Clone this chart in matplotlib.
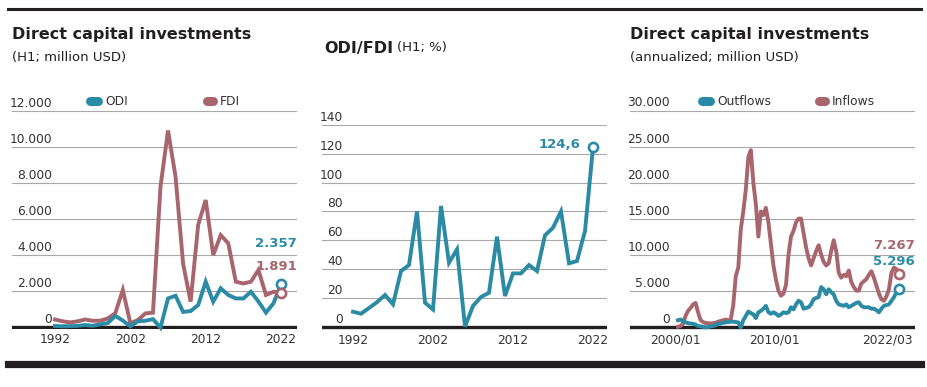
import numpy as np
import pandas as pd
import matplotlib
matplotlib.use('Agg')
import matplotlib.pyplot as plt
from matplotlib.lines import Line2D
from matplotlib.transforms import Affine2D, ScaledTranslation, blended_transform_factory, offset_copy

# ---- data ----
years = list(range(1992, 2023))
odi_h1 = [40, 25, 30, 50, 90, 50, 130, 200, 600, 340, 25, 300, 330, 420, -50,
          1570, 1720, 820, 870, 1200, 2500, 1390, 2130, 1760, 1570, 1570, 1940,
          1400, 780, 1300, 2357]
fdi_h1 = [400, 300, 240, 300, 400, 330, 330, 460, 750, 2040, 190, 370, 740, 780,
          7780, 10900, 8330, 3500, 1390, 5650, 7040, 3980, 5090, 4630, 2500, 2400,
          2500, 3150, 1760, 1940, 1891]
ratio_h1 = [10.4, 9, 13, 17, 22, 15.5, 38.6, 42.8, 80, 16.7, 12, 83.8, 44.4, 53.7,
            0, 14.4, 20.6, 23.6, 62.5, 21.3, 37, 37, 42.8, 38.6, 63.4, 68.7, 80,
            44, 45.6, 66.4, 124.6]

# annualized flows, roughly quarterly from 2000/01 to 2022/03
outflows = [900, 1000, 800, 600, 500, 450, 400, 300, 100, 50, 0, -100,
            -50, 50, 100, 200, 400, 450, 550, 600, 650, 700, 700, 650,
            600, -100, 900, 1500, 2100, 1900, 1700, 1200, 2000, 2200, 2500, 2900,
            2000, 1800, 2000, 1800, 1500, 1700, 2000, 1900, 2000, 2700, 2400, 3100,
            3600, 3400, 2500, 2600, 2700, 3100, 3800, 4000, 4100, 5500, 5200, 4500,
            5200, 4800, 4500, 3600, 3100, 3000, 2900, 3100, 2700, 2900, 3100, 3300,
            3400, 2900, 2700, 2700, 2700, 2500, 2500, 2300, 2000, 2500, 2900, 3000,
            3100, 3600, 4100, 4800, 5296]
inflows = [0, 100, 400, 1500, 2200, 2600, 3100, 3300, 2000, 900, 650, 500,
           500, 450, 500, 550, 700, 800, 900, 1000, 900, 1000, 3000, 7000,
           8200, 13500, 16000, 19000, 23500, 24500, 20000, 17000, 12500, 16000, 15500, 16500,
           14500, 11500, 8500, 6500, 5000, 4300, 4600, 5800, 10000, 12500, 13300, 14500,
           15000, 15000, 13000, 11000, 9500, 8500, 9500, 10500, 11300, 10000, 9000, 8500,
           8800, 10500, 12000, 10500, 7500, 6800, 7200, 7000, 7800, 6200, 5500, 5000,
           5000, 6000, 6300, 6600, 7200, 7700, 6800, 5700, 4600, 3800, 3600, 4200,
           5200, 7500, 8200, 8000, 7267]
dates = pd.date_range('2000-01-01', '2022-03-01', periods=len(inflows))

BLUE = '#2b8ba5'
RED = '#a9656d'
GRID = '#a8a8a8'
INK = '#231f20'
W, H = 927, 387
TICK = dict(fontsize=8.8, color='#333333')

plt.rcParams['font.family'] = ['Liberation Sans Narrow', 'DejaVu Sans']

fig = plt.figure(figsize=(W / 100, H / 100), dpi=100)
# transform in reference pixels (origin top-left)
pix = Affine2D().scale(1 / W, -1 / H).translate(0, 1) + fig.transFigure


def add_axes(x0, x1, y_top, y_bottom):
    ax = fig.add_axes([x0 / W, 1 - y_bottom / H, (x1 - x0) / W, (y_bottom - y_top) / H])
    for s in ax.spines.values():
        s.set_visible(False)
    ax.set_yticks([])
    ax.tick_params(axis='x', length=0, pad=2.6, labelsize=TICK['fontsize'], labelcolor=TICK['color'])
    return ax


def y_grid(ax, ticks, labels, label_x):
    tr = offset_copy(blended_transform_factory(ax.transAxes, ax.transData), fig=fig, y=4, units='dots')
    for v, lab in zip(ticks, labels):
        if v == 0:
            ax.axhline(0, color=INK, lw=2.4, zorder=2)
        else:
            ax.axhline(v, color=GRID, lw=0.8, zorder=1)
        ax.text(label_x, v, lab, transform=tr, ha='right', va='baseline', **TICK)


def end_marker(ax, x, y, color, text, dx, dy, ha='right'):
    ax.plot([x], [y], 'o', ms=6.6, mfc='white', mec=color, mew=1.9, zorder=5, clip_on=False)
    ax.annotate(text, (x, y), xytext=(dx, dy), textcoords='offset pixels', ha=ha, va='center',
                color=color, fontsize=9.5, fontweight='bold', annotation_clip=False)


def legend_pill(x0, x1, y, color, label):
    fig.add_artist(Line2D([x0 + 4.5, x1 - 4.5], [y, y], lw=6.5, color=color,
                          solid_capstyle='round', transform=pix))
    fig.text(x1 + 2, y, label, transform=pix, va='center', ha='left', **TICK)


def shift_label(lab, dx_px):
    lab.set_transform(lab.get_transform() + ScaledTranslation(dx_px / 100, 0, fig.dpi_scale_trans))


# ---- left: direct capital investments, H1 ----
ax1 = add_axes(12, 297, 110.7, 329.4)
ax1.set_ylim(-150, 12000)
ax1.set_xlim(1986.29, 2024.12)
y_grid(ax1, [0, 2000, 4000, 6000, 8000, 10000, 12000],
       ['0', '2.000', '4.000', '6.000', '8.000', '10.000', '12.000'], 40 / 285)
ax1.plot(years, fdi_h1, color=RED, lw=2.8, zorder=3, clip_on=False, solid_joinstyle='miter')
ax1.plot(years, odi_h1, color=BLUE, lw=2.8, zorder=4, clip_on=False, solid_joinstyle='miter')
ax1.set_xticks([1992, 2002, 2012, 2022])
end_marker(ax1, years[-1], odi_h1[-1], BLUE, '2.357', 16, 41)
end_marker(ax1, years[-1], fdi_h1[-1], RED, '1.891', 16, 26)
legend_pill(86, 103, 101.3, BLUE, 'ODI')
legend_pill(203, 218, 101.3, RED, 'FDI')

# ---- middle: ODI/FDI ratio ----
ax2 = add_axes(322, 607, 125, 330.0)
ax2.set_ylim(-2.3, 140)
ax2.set_xlim(1988.125, 2023.75)
y_grid(ax2, [0, 20, 40, 60, 80, 100, 120, 140],
       ['0', '20', '40', '60', '80', '100', '120', '140'], 21 / 285)
ax2.plot(years, ratio_h1, color=BLUE, lw=2.8, zorder=4, clip_on=False, solid_joinstyle='miter')
ax2.set_xticks([1992, 2002, 2012, 2022])
end_marker(ax2, years[-1], ratio_h1[-1], BLUE, '124,6', -13, 3)

# ---- right: annualized flows ----
ax3 = add_axes(630, 915, 110.5, 329.6)
ax3.set_ylim(-400, 30000)
ax3.plot(dates, inflows, color=RED, lw=2.8, zorder=3, clip_on=False)
ax3.plot(dates, outflows, color=BLUE, lw=2.8, zorder=4, clip_on=False)
ax3.set_xlim(dates[0] - pd.Timedelta(days=1758), dates[-1] + pd.Timedelta(days=586))
y_grid(ax3, [0, 5000, 10000, 15000, 20000, 25000, 30000],
       ['0', '5.000', '10.000', '15.000', '20.000', '25.000', '30.000'], 40 / 285)
ax3.set_xticks([pd.Timestamp('2000-01-01'), pd.Timestamp('2010-01-01'), pd.Timestamp('2022-03-01')])
ax3.set_xticklabels(['2000/01', '2010/01', '2022/03'])
xl = ax3.get_xticklabels()
shift_label(xl[0], -3)
shift_label(xl[1], -3)
shift_label(xl[2], -12)
end_marker(ax3, dates[-1], inflows[-1], RED, '7.267', 16, 29)
end_marker(ax3, dates[-1], outflows[-1], BLUE, '5.296', 16, 27)
legend_pill(698, 715, 101.3, BLUE, 'Outflows')
legend_pill(815, 830, 101.3, RED, 'Inflows')

# ---- titles ----
TITLE = dict(fontsize=11.5, fontweight='bold', color=INK, transform=pix, va='center', ha='left')
SUB = dict(fontsize=9.5, color=INK, transform=pix, va='center', ha='left')
fig.text(12, 34, 'Direct capital investments', **TITLE)
fig.text(12, 57, '(H1; million USD)', **SUB)
t = fig.text(324, 48, 'ODI/FDI', **TITLE)
plt.annotate('(H1; %)', xy=(1, 0.5), xycoords=t, xytext=(3, 0), textcoords='offset points',
             va='center', ha='left', fontsize=9.5, color=INK)
fig.text(630, 34, 'Direct capital investments', **TITLE)
fig.text(630, 57, '(annualized; million USD)', **SUB)

# frame bars
fig.add_artist(Line2D([8, 921], [8.5, 8.5], lw=2.2, color=INK, transform=pix))
fig.add_artist(Line2D([8, 921], [364, 364], lw=5.2, color=INK, transform=pix))

fig.savefig('out.png', dpi=100)
